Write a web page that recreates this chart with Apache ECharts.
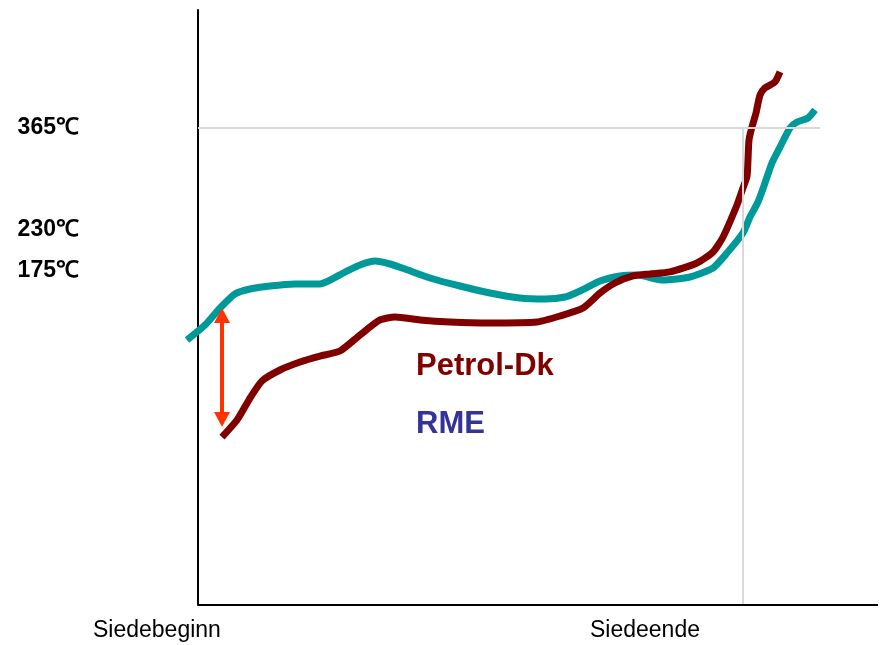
<!DOCTYPE html>
<html>
<head>
<meta charset="utf-8">
<script src="https://cdn.jsdelivr.net/npm/echarts@6/dist/echarts.min.js"></script>
<style>html,body{margin:0;padding:0;background:#fff}#c{width:880px;height:645px}</style>
</head>
<body>
<div id="c"></div>
<script>
// x: progress of boiling (0 = Siedebeginn, ~80 = Siedeende), y: temperature (schematic)
const rmeX = [-1.62,1.03,3.24,5.44,7.65,10.59,14.26,17.94,21.62,23.82,26.03,28.24,30.44,34.12,38.53,42.94,47.35,51.03,53.97,56.18,59.12,62.06,64.56,68.38,72.35,75.74,77.79,80.15,81.18,82.35,83.38,84.41,85.59,87.06,88.09,89.71,90.74];
const rmeY = [82.7,102.7,125.3,144.0,150.6,154.6,157.3,157.3,173.2,182.6,187.9,183.9,177.2,165.3,154.6,145.3,138.6,137.3,140.0,148.0,161.3,168.0,169.3,162.6,166.6,178.6,198.5,225.2,246.5,266.4,291.7,318.4,339.6,364.9,372.9,378.2,388.9];
const petX = [3.53,5.74,7.65,9.41,12.06,15.0,17.94,20.88,23.82,26.76,28.97,32.65,37.06,42.94,49.85,53.24,56.62,59.12,61.32,63.97,66.47,69.41,73.38,75.74,77.21,79.26,80.15,80.74,80.88,81.03,81.47,82.06,82.65,83.38,84.85,85.59];
const petY = [-46.4,-23.8,5.5,28.2,42.8,53.5,61.4,68.1,89.4,109.4,113.4,109.4,106.7,105.4,106.7,114.7,125.3,145.3,158.6,168.0,170.6,173.3,185.2,199.9,219.8,262.4,285.1,301.0,322.3,349.0,366.3,384.9,408.9,418.2,426.2,439.5];
const yTickValues = [175, 230, 365];
const yTickLabels = ['175℃', '230℃', '365℃'];
const xLabels = ['Siedebeginn', 'Siedeende'];
const seriesNames = ['Petrol-Dk', 'RME'];
const siedeendeX = 80.15;
const refTemp = 365;
const refLineEndX = 91.5;
const arrowX = 3.53;
const arrowY = [115.3, -23.1];

const xMin = -3, xMax = 100;
const yMin = -270, yMax = 522;
const chart = echarts.init(document.getElementById('c'), null, {renderer: 'canvas'});
const zip = (xs, ys) => xs.map((x, i) => [x, ys[i]]);

chart.setOption({
  animation: false,
  backgroundColor: '#fff',
  grid: {left: 177.6, right: 2, top: 10, bottom: 40, containLabel: false, outerBoundsMode: 'none'},
  xAxis: {
    type: 'value', min: xMin, max: xMax,
    axisLine: {show: false},
    axisTick: {show: false}, axisLabel: {show: false}, splitLine: {show: false}
  },
  yAxis: {
    type: 'value', min: yMin, max: yMax,
    axisLine: {show: true, onZero: true, lineStyle: {color: '#000', width: 2}},
    axisTick: {show: false},
    splitLine: {show: false},
    axisLabel: {
      show: true,
      customValues: yTickValues,
      formatter: v => yTickLabels[yTickValues.indexOf(v)] || '',
      align: 'left',
      margin: 160,
      color: '#000',
      fontFamily: 'Liberation Sans, Arial, sans-serif',
      fontWeight: 'bold',
      fontSize: 23
    }
  },
  series: [
    {
      name: 'axes', type: 'line', data: [], silent: true, z: 1,
      markLine: {
        silent: true, symbol: ['none', 'none'], label: {show: false},
        lineStyle: {color: '#d9d9d9', width: 2, type: 'solid'},
        data: [
          [{coord: [0, refTemp]}, {coord: [refLineEndX, refTemp]}],
          [{coord: [siedeendeX, refTemp]}, {coord: [siedeendeX, yMin]}],
          [{coord: [0, yMin], lineStyle: {color: '#000', width: 2}}, {coord: [xMax, yMin]}]
        ]
      }
    },
    {
      name: seriesNames[1], type: 'line', data: zip(rmeX, rmeY),
      showSymbol: false, smooth: 0.2, z: 3,
      lineStyle: {color: '#009999', width: 7, join: 'round'}
    },
    {
      name: seriesNames[0], type: 'line', data: zip(petX, petY),
      showSymbol: false, smooth: 0.2, z: 4,
      lineStyle: {color: '#800000', width: 7, join: 'round'},
      markLine: {
        silent: true, symbol: ['triangle', 'triangle'], symbolSize: [16, 15], label: {show: false},
        lineStyle: {color: '#ff3300', width: 4, type: 'solid'},
        itemStyle: {color: '#ff3300'},
        data: [[{coord: [arrowX, arrowY[0]]}, {coord: [arrowX, arrowY[1]]}]]
      }
    }
  ],
  graphic: [
    {type: 'text', left: 93, top: 619, style: {text: xLabels[0], fill: '#000', font: '23px "Liberation Sans", Arial, sans-serif'}},
    {type: 'text', left: 590, top: 619, style: {text: xLabels[1], fill: '#000', font: '23px "Liberation Sans", Arial, sans-serif'}},
    {type: 'text', left: 416, top: 351, style: {text: seriesNames[0], fill: '#800000', font: 'bold 31px "Liberation Sans", Arial, sans-serif'}},
    {type: 'text', left: 416, top: 409, style: {text: seriesNames[1], fill: '#333399', font: 'bold 31px "Liberation Sans", Arial, sans-serif'}}
  ]
});
</script>
</body>
</html>
